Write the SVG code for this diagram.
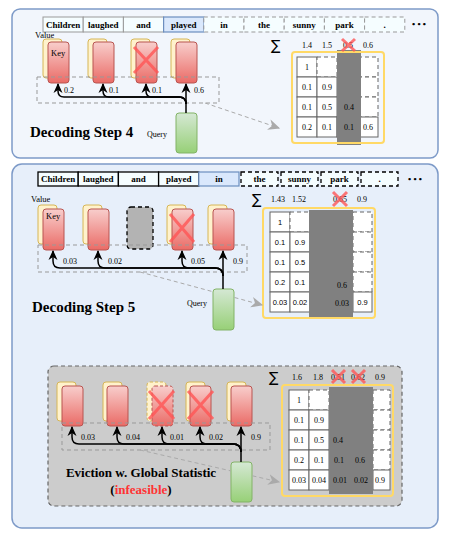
<svg xmlns="http://www.w3.org/2000/svg" width="450" height="538" viewBox="0 0 450 538">
<defs>
<linearGradient id="gRed" x1="0" y1="0" x2="0" y2="1"><stop offset="0" stop-color="#f8cecc"/><stop offset="1" stop-color="#ea6b66"/></linearGradient>
<linearGradient id="gGreen" x1="0" y1="0" x2="0" y2="1"><stop offset="0" stop-color="#d5e8d4"/><stop offset="1" stop-color="#97d077"/></linearGradient>
<marker id="ah" markerUnits="userSpaceOnUse" markerWidth="10" markerHeight="10" viewBox="0 0 10 10" refX="9" refY="5" orient="auto"><path d="M0,0.5 L10,5 L0,9.5 L3,5 Z" fill="#000"/></marker>
<marker id="ahg" markerUnits="userSpaceOnUse" markerWidth="12" markerHeight="12" viewBox="0 0 10 10" refX="9" refY="5" orient="auto"><path d="M0,0.5 L10,5 L0,9.5 L3,5 Z" fill="#aaaaaa"/></marker>
</defs>
<style>
.tok{font-family:"Liberation Serif",serif;font-weight:bold;font-size:9px;text-anchor:middle;fill:#000}
.tb1{fill:#f5fdff;stroke:#999;stroke-width:1}
.tb1d{fill:#f5fdff;stroke:#999;stroke-width:1;stroke-dasharray:4 3}
.tb2{fill:#f5fdff;stroke:#000;stroke-width:1.3}
.tb2d{fill:#f5fdff;stroke:#000;stroke-width:1.3;stroke-dasharray:4 3}
.tbb{fill:#dae8fc;stroke:#6c8ebf;stroke-width:1.2}
.val{fill:#fff2cc;stroke:#d6b656;stroke-width:1}
.vald{fill:#fff2cc;stroke:#d6b656;stroke-width:1;stroke-dasharray:3 2}
.key{fill:url(#gRed);stroke:#b85450;stroke-width:1}
.qry{fill:url(#gGreen);stroke:#82b366;stroke-width:1}
.x{stroke:#ff5555;stroke-width:3;stroke-opacity:0.8;fill:none}
.lbl{font-family:"Liberation Serif",serif;font-size:8.5px;fill:#000}
.qlbl{font-family:"Liberation Serif",serif;font-size:8px;fill:#000}
.num{font-family:"Liberation Serif",serif;font-size:8px;fill:#000;text-anchor:middle}
.nums{font-family:"Liberation Sans",sans-serif;font-size:7.5px;fill:#000;text-anchor:middle}
.cell{fill:#fff;stroke:#666;stroke-width:1}
.celld{fill:#fff;stroke:#666;stroke-width:1;stroke-dasharray:4 3}
.mat{fill:none;stroke:#ffd966;stroke-width:2}
.gcol{fill:#808080}
.drect{fill:none;stroke:#999;stroke-width:1;stroke-dasharray:4 3}
.wire{fill:none;stroke:#000;stroke-width:1.5}
.gd{fill:none;stroke:#aaa;stroke-width:1;stroke-dasharray:4 3}
.title{font-family:"Liberation Serif",serif;font-weight:bold;font-size:15px;fill:#000}
.sub{font-family:"Liberation Serif",serif;font-weight:bold;font-size:13px;fill:#000;text-anchor:middle}
.sig{font-family:"DejaVu Sans",sans-serif;font-size:14px;fill:#000}
</style>

<!-- Panel 1 -->
<g id="panel-step4">
<rect x="12" y="9" width="426" height="149" rx="8" fill="#f2f6fc" stroke="#7d9ac8" stroke-width="1.5"/>
<g id="tokens4">
<rect class="tb1" x="43" y="17" width="40.2" height="15"/><text class="tok" x="63.1" y="27.5">Children</text>
<rect class="tb1" x="83.2" y="17" width="40.2" height="15"/><text class="tok" x="103.3" y="27.5">laughed</text>
<rect class="tb1" x="123.4" y="17" width="40.2" height="15"/><text class="tok" x="143.5" y="27.5">and</text>
<rect class="tbb" x="163.6" y="17" width="40.2" height="15"/><text class="tok" x="183.7" y="27.5">played</text>
<rect class="tb1d" x="203.8" y="17" width="40.2" height="15"/><text class="tok" x="223.9" y="27.5">in</text>
<rect class="tb1d" x="244" y="17" width="40.2" height="15"/><text class="tok" x="264.1" y="27.5">the</text>
<rect class="tb1d" x="284.2" y="17" width="40.2" height="15"/><text class="tok" x="304.3" y="27.5">sunny</text>
<rect class="tb1d" x="324.4" y="17" width="40.2" height="15"/><text class="tok" x="344.5" y="27.5">park</text>
<rect class="tb1d" x="364.6" y="17" width="40.2" height="15"/><text class="tok" x="384.7" y="27.5">.</text>
<text class="tok" x="419" y="27">• • •</text>
</g>
<g id="kv4-1"><rect class="val" x="43" y="39" width="19" height="39" rx="3"/><rect class="key" x="48" y="42" width="21" height="41" rx="3"/></g>
<g id="kv4-2"><rect class="val" x="88" y="39" width="19" height="39" rx="3"/><rect class="key" x="93" y="42" width="21" height="41" rx="3"/></g>
<g id="kv4-3"><rect class="val" x="131" y="39" width="19" height="39" rx="3"/><rect class="key" x="136" y="42" width="21" height="41" rx="3"/><path class="x" d="M134,47 L158,73 M158,47 L134,73"/></g>
<g id="kv4-4"><rect class="val" x="171" y="39" width="19" height="39" rx="3"/><rect class="key" x="176" y="42" width="21" height="41" rx="3"/></g>
<text class="lbl" x="35" y="38">Value</text>
<text class="lbl" x="51" y="56">Key</text>
<rect class="drect" x="37" y="77" width="182" height="26"/>
<g id="q4"><rect class="qry" x="176" y="113" width="21" height="40" rx="3"/></g>
<text class="qlbl" x="147" y="137">Query</text>
<text class="num" x="69" y="93">0.2</text>
<text class="num" x="114" y="93">0.1</text>
<text class="num" x="157" y="93">0.1</text>
<text class="num" x="199" y="93">0.6</text>
<text class="title" x="30" y="137">Decoding Step 4</text>
<g id="matrix4">
<rect class="cell" x="297" y="57" width="20" height="20"/><text class="num" x="307" y="70">1</text>
<rect class="celld" x="317" y="57" width="20" height="20"/>
<rect class="celld" x="358" y="57" width="20" height="20"/>
<rect class="cell" x="297" y="77" width="20" height="20"/><text class="num" x="307" y="90">0.1</text>
<rect class="cell" x="317" y="77" width="20" height="20"/><text class="num" x="327" y="90">0.9</text>
<rect class="celld" x="358" y="77" width="20" height="20"/>
<rect class="cell" x="297" y="97" width="20" height="20"/><text class="num" x="307" y="110">0.1</text>
<rect class="cell" x="317" y="97" width="20" height="20"/><text class="num" x="327" y="110">0.5</text>
<rect class="celld" x="358" y="97" width="20" height="20"/>
<rect class="cell" x="297" y="117" width="20" height="20"/><text class="num" x="307" y="130">0.2</text>
<rect class="cell" x="317" y="117" width="20" height="20"/><text class="num" x="327" y="130">0.1</text>
<rect class="cell" x="337" y="117" width="21" height="20"/>
<rect class="cell" x="358" y="117" width="20" height="20"/><text class="num" x="368" y="130">0.6</text>
<rect class="gcol" x="337" y="50" width="24" height="95"/>
<text class="num" x="349" y="110">0.4</text>
<text class="num" x="349" y="130">0.1</text>
<rect class="mat" x="292" y="52" width="92" height="91" rx="3"/>
<text class="sig" x="271" y="50">∑</text>
<text class="num" x="307" y="48">1.4</text>
<text class="num" x="327" y="48">1.5</text>
<text class="num" x="348" y="48">0.5</text>
<path class="x" d="M342,39 L355,51 M355,39 L342,51"/>
<text class="num" x="368" y="48">0.6</text>
</g>
</g>

<!-- Panel 2 -->
<g id="panel-step5">
<rect x="12" y="164" width="426" height="364" rx="10" fill="#e7effa" stroke="#7d9ac8" stroke-width="1.5"/>
<g id="tokens5">
<rect class="tb2" x="38" y="172" width="40.2" height="14"/><text class="tok" x="58.1" y="182">Children</text>
<rect class="tb2" x="78.2" y="172" width="40.2" height="14"/><text class="tok" x="98.3" y="182">laughed</text>
<rect class="tb2" x="118.4" y="172" width="40.2" height="14"/><text class="tok" x="138.5" y="182">and</text>
<rect class="tb2" x="158.6" y="172" width="40.2" height="14"/><text class="tok" x="178.7" y="182">played</text>
<rect class="tbb" x="198.8" y="172" width="40.2" height="14"/><text class="tok" x="218.9" y="182">in</text>
<rect class="tb2d" x="241" y="172" width="37" height="14"/><text class="tok" x="259.5" y="182">the</text>
<rect class="tb2d" x="281" y="172" width="37" height="14"/><text class="tok" x="299.5" y="182">sunny</text>
<rect class="tb2d" x="321" y="172" width="37" height="14"/><text class="tok" x="339.5" y="182">park</text>
<rect class="tb2d" x="361" y="172" width="37" height="14"/><text class="tok" x="379.5" y="182">.</text>
<text class="tok" x="415" y="182">• • •</text>
</g>
<g id="kv5-1"><rect class="val" x="38" y="205" width="19" height="39" rx="3"/><rect class="key" x="43" y="209" width="21" height="41" rx="3"/></g>
<g id="kv5-2"><rect class="val" x="83" y="205" width="19" height="39" rx="3"/><rect class="key" x="88" y="209" width="21" height="41" rx="3"/></g>
<g id="kv5-3"><rect x="127" y="207" width="26" height="42" rx="4" fill="#b3b3b3" stroke="#000" stroke-width="1.3" stroke-dasharray="4 3"/></g>
<g id="kv5-4"><rect class="val" x="167" y="205" width="19" height="39" rx="3"/><rect class="key" x="172" y="209" width="21" height="41" rx="3"/><path class="x" d="M170,214 L194,242 M194,214 L170,242"/></g>
<g id="kv5-5"><rect class="val" x="208" y="205" width="19" height="39" rx="3"/><rect class="key" x="213" y="209" width="21" height="41" rx="3"/></g>
<text class="lbl" x="31" y="202">Value</text>
<text class="lbl" x="46" y="219">Key</text>
<rect class="drect" x="38" y="245" width="209" height="27"/>
<g id="q5"><rect class="qry" x="213" y="289" width="21" height="41" rx="3"/></g>
<text class="qlbl" x="187" y="306">Query</text>
<text class="num" x="70" y="264">0.03</text>
<text class="num" x="115" y="264">0.02</text>
<text class="num" x="198" y="264">0.05</text>
<text class="num" x="238" y="264">0.9</text>
<text class="title" x="32" y="312">Decoding Step 5</text>
<g id="matrix5">
<rect class="cell" x="270" y="212" width="20" height="20"/><text class="nums" x="280" y="225">1</text>
<rect class="celld" x="290" y="212" width="20" height="20"/>
<rect class="celld" x="353" y="212" width="19" height="20"/>
<rect class="cell" x="270" y="232" width="20" height="20"/><text class="nums" x="280" y="245">0.1</text>
<rect class="cell" x="290" y="232" width="20" height="20"/><text class="nums" x="300" y="245">0.9</text>
<rect class="celld" x="353" y="232" width="19" height="20"/>
<rect class="cell" x="270" y="252" width="20" height="20"/><text class="nums" x="280" y="265">0.1</text>
<rect class="cell" x="290" y="252" width="20" height="20"/><text class="nums" x="300" y="265">0.5</text>
<rect class="celld" x="353" y="252" width="19" height="20"/>
<rect class="cell" x="270" y="272" width="20" height="20"/><text class="nums" x="280" y="285">0.2</text>
<rect class="cell" x="290" y="272" width="20" height="20"/><text class="nums" x="300" y="285">0.1</text>
<rect class="celld" x="353" y="272" width="19" height="20"/>
<rect class="cell" x="270" y="292" width="20" height="20"/><text class="nums" x="280" y="305">0.03</text>
<rect class="cell" x="290" y="292" width="20" height="20"/><text class="nums" x="300" y="305">0.02</text>
<rect class="cell" x="353" y="292" width="19" height="20"/><text class="nums" x="362.5" y="305">0.9</text>
<rect class="gcol" x="309" y="210" width="44" height="108"/>
<text class="num" x="342" y="288">0.6</text>
<text class="num" x="342" y="306">0.03</text>
<rect class="mat" x="263" y="208" width="112" height="110" rx="3"/>
<text class="sig" x="252" y="204">∑</text>
<text class="num" x="278" y="202">1.43</text>
<text class="num" x="299" y="202">1.52</text>
<text class="num" x="340" y="202">0.65</text>
<path class="x" d="M333,192 L347,206 M347,192 L333,206"/>
<text class="num" x="362" y="202">0.9</text>
</g>

<!-- Global statistic sub-panel -->
<g id="panel-global">
<rect x="48" y="366" width="354" height="140" rx="6" fill="#cccccc" stroke="#666" stroke-width="1.2" stroke-dasharray="4 3"/>
<g id="kvg-1"><rect class="val" x="57" y="382" width="19" height="39" rx="3"/><rect class="key" x="62" y="386" width="21" height="40" rx="3"/></g>
<g id="kvg-2"><rect class="val" x="103" y="382" width="19" height="39" rx="3"/><rect class="key" x="107" y="386" width="21" height="40" rx="3"/></g>
<g id="kvg-3"><rect class="vald" x="147" y="382" width="19" height="39" rx="3"/><rect class="key" x="152" y="386" width="21" height="40" rx="3" stroke-dasharray="3 2"/><path class="x" d="M149,391 L174,419 M174,391 L149,419"/></g>
<g id="kvg-4"><rect class="val" x="186" y="382" width="19" height="39" rx="3"/><rect class="key" x="190" y="386" width="21" height="40" rx="3"/><path class="x" d="M188,391 L213,419 M213,391 L188,419"/></g>
<g id="kvg-5"><rect class="val" x="227" y="382" width="19" height="39" rx="3"/><rect class="key" x="231" y="386" width="21" height="40" rx="3"/></g>
<rect class="drect" x="62" y="423" width="208" height="27"/>
<g id="qg"><rect class="qry" x="231" y="462" width="21" height="40" rx="3"/></g>
<text class="num" x="88" y="440">0.03</text>
<text class="num" x="133" y="440">0.04</text>
<text class="num" x="177" y="440">0.01</text>
<text class="num" x="216" y="440">0.02</text>
<text class="num" x="256" y="440">0.9</text>
<text class="sub" x="141" y="477">Eviction w. Global Statistic</text>
<text class="sub" x="141" y="494">(<tspan fill="#ff3333">infeasible</tspan>)</text>
<g id="matrixg">
<rect class="cell" x="289" y="390" width="20" height="20"/><text class="num" x="299" y="403">1</text>
<rect class="celld" x="309" y="390" width="20" height="20"/>
<rect class="celld" x="373" y="390" width="17" height="20"/>
<rect class="cell" x="289" y="410" width="20" height="20"/><text class="num" x="299" y="423">0.1</text>
<rect class="cell" x="309" y="410" width="20" height="20"/><text class="num" x="319" y="423">0.9</text>
<rect class="celld" x="373" y="410" width="17" height="20"/>
<rect class="cell" x="289" y="430" width="20" height="20"/><text class="num" x="299" y="443">0.1</text>
<rect class="cell" x="309" y="430" width="20" height="20"/><text class="num" x="319" y="443">0.5</text>
<rect class="celld" x="373" y="430" width="17" height="20"/>
<rect class="cell" x="289" y="450" width="20" height="20"/><text class="num" x="299" y="463">0.2</text>
<rect class="cell" x="309" y="450" width="20" height="20"/><text class="num" x="319" y="463">0.1</text>
<rect class="celld" x="373" y="450" width="17" height="20"/>
<rect class="cell" x="289" y="470" width="20" height="20"/><text class="num" x="299" y="483">0.03</text>
<rect class="cell" x="309" y="470" width="20" height="20"/><text class="num" x="319" y="483">0.04</text>
<rect class="cell" x="373" y="470" width="17" height="20"/><text class="num" x="380" y="483">0.9</text>
<rect class="gcol" x="329" y="387" width="44" height="107"/>
<text class="num" x="338" y="443">0.4</text>
<text class="num" x="339" y="463">0.1</text>
<text class="num" x="360" y="463">0.6</text>
<text class="num" x="340" y="483">0.01</text>
<text class="num" x="361" y="483">0.02</text>
<rect class="mat" x="282" y="385" width="111" height="111" rx="3"/>
<text class="sig" x="269" y="382">∑</text>
<text class="num" x="297" y="380">1.6</text>
<text class="num" x="318" y="380">1.8</text>
<text class="num" x="338" y="380">0.51</text>
<path class="x" d="M332,370 L345,383 M345,370 L332,383"/>
<text class="num" x="358" y="380">0.62</text>
<path class="x" d="M352,370 L365,383 M365,370 L352,383"/>
<text class="num" x="380" y="380">0.9</text>
</g>
</g>
</g>

<g id="connectors">
<!-- step 4 -->
<path class="gd" d="M205,103 L279,128" marker-end="url(#ahg)"/>
<path class="wire" d="M186,113 V84" marker-end="url(#ah)"/>
<path class="wire" d="M186,104 Q186,97 179,97 H64 Q58,97 58,91 V84" marker-end="url(#ah)"/>
<path class="wire" d="M186,104 Q186,97 179,97 H109 Q103,97 103,91 V84" marker-end="url(#ah)"/>
<path class="wire" d="M186,104 Q186,97 179,97 H152 Q146,97 146,91 V84" marker-end="url(#ah)"/>
<!-- step 5 (dashed link passes behind the query) -->
<path class="gd" d="M140,272 L212.5,291.6 M234.5,297.5 L262,305" marker-end="url(#ahg)"/>
<path class="wire" d="M223,289 V251" marker-end="url(#ah)"/>
<path class="wire" d="M223,276 Q223,268 215,268 H60 Q53,268 53,261 V251" marker-end="url(#ah)"/>
<path class="wire" d="M223,276 Q223,268 215,268 H105 Q98,268 98,261 V251" marker-end="url(#ah)"/>
<path class="wire" d="M223,276 Q223,268 215,268 H189 Q182,268 182,261 V251" marker-end="url(#ah)"/>
<!-- global (dashed link passes behind the query) -->
<path class="gd" d="M140,450 L230.5,470.8 M252.5,475.8 L279,482" marker-end="url(#ahg)"/>
<path class="wire" d="M241,462 V427" marker-end="url(#ah)"/>
<path class="wire" d="M241,452 Q241,444 233,444 H79 Q72,444 72,437 V427" marker-end="url(#ah)"/>
<path class="wire" d="M241,452 Q241,444 233,444 H124 Q117,444 117,437 V427" marker-end="url(#ah)"/>
<path class="wire" d="M241,452 Q241,444 233,444 H169 Q162,444 162,437 V427" marker-end="url(#ah)"/>
<path class="wire" d="M241,452 Q241,444 233,444 H207 Q200,444 200,437 V427" marker-end="url(#ah)"/>
</g>
</svg>
